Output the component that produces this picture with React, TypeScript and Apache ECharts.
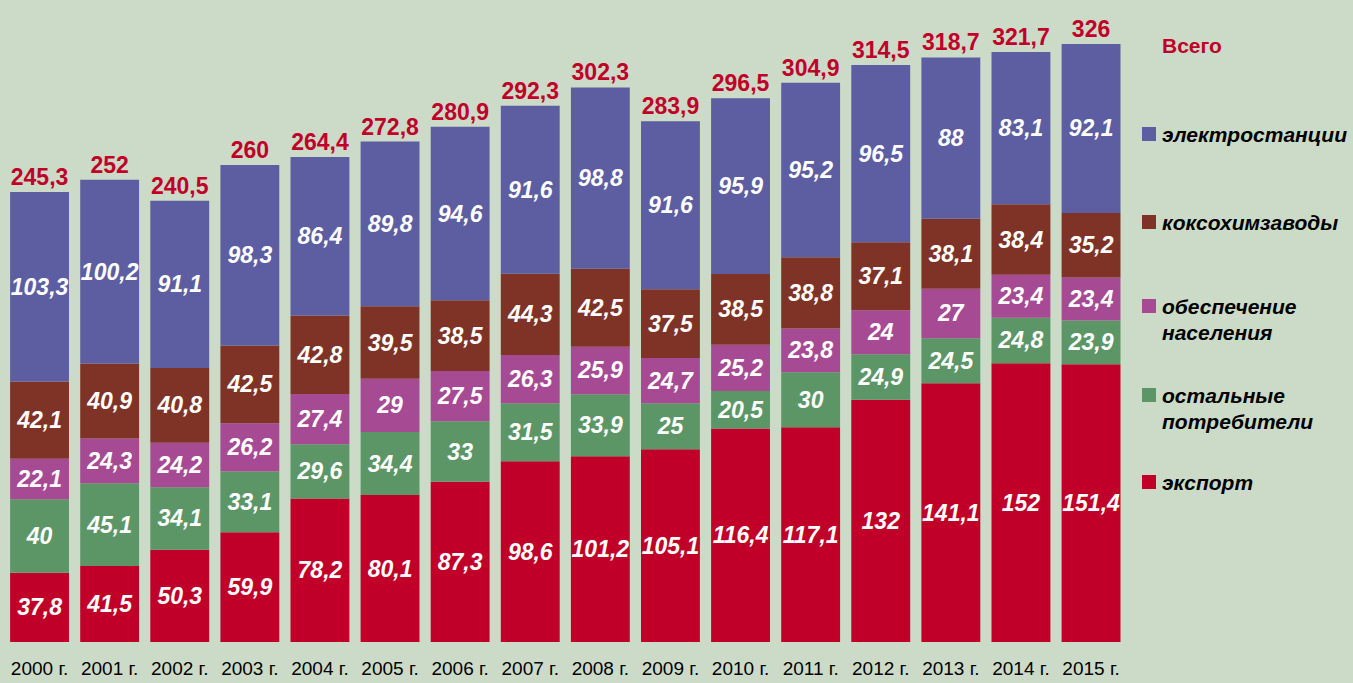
import React, { useEffect, useRef } from "react";
import * as echarts from "echarts";

const years = ["2000 г.", "2001 г.", "2002 г.", "2003 г.", "2004 г.", "2005 г.", "2006 г.", "2007 г.", "2008 г.", "2009 г.", "2010 г.", "2011 г.", "2012 г.", "2013 г.", "2014 г.", "2015 г."];
const exportVals = [37.8, 41.5, 50.3, 59.9, 78.2, 80.1, 87.3, 98.6, 101.2, 105.1, 116.4, 117.1, 132, 141.1, 152, 151.4];
const otherVals = [40, 45.1, 34.1, 33.1, 29.6, 34.4, 33, 31.5, 33.9, 25, 20.5, 30, 24.9, 24.5, 24.8, 23.9];
const populationVals = [22.1, 24.3, 24.2, 26.2, 27.4, 29, 27.5, 26.3, 25.9, 24.7, 25.2, 23.8, 24, 27, 23.4, 23.4];
const cokeVals = [42.1, 40.9, 40.8, 42.5, 42.8, 39.5, 38.5, 44.3, 42.5, 37.5, 38.5, 38.8, 37.1, 38.1, 38.4, 35.2];
const powerVals = [103.3, 100.2, 91.1, 98.3, 86.4, 89.8, 94.6, 91.6, 98.8, 91.6, 95.9, 95.2, 96.5, 88, 83.1, 92.1];
const totals = [245.3, 252, 240.5, 260, 264.4, 272.8, 280.9, 292.3, 302.3, 283.9, 296.5, 304.9, 314.5, 318.7, 321.7, 326];

const seriesNames = ["экспорт", "остальные потребители", "обеспечение населения", "коксохимзаводы", "электростанции"];
const colors = ["#C00028", "#5C9667", "#A64A94", "#7F3326", "#5D5DA1"];

const fmt = (v: number) => String(v).replace(".", ",");
const FONT = "Liberation Sans, Arial, sans-serif";

export default function App() {
  const ref = useRef<HTMLDivElement>(null);
  useEffect(() => {
    if (!ref.current) return;
    const chart = echarts.init(ref.current, null, { renderer: "svg" });
    const dataSets = [exportVals, otherVals, populationVals, cokeVals, powerVals];
    const barSeries = dataSets.map((d, i) => ({
      type: "bar",
      name: seriesNames[i],
      stack: "total",
      data: d,
      barCategoryGap: "16%",
      itemStyle: { color: colors[i] },
      label: {
        show: true,
        position: "inside",
        color: "#ffffff",
        fontFamily: FONT,
        fontWeight: "bold",
        fontStyle: "italic",
        fontSize: 23,
        formatter: (p: any) => fmt(p.value),
      },
    }));
    const legendItems = [
      { lines: ["электростанции"], y: 134, color: colors[4] },
      { lines: ["коксохимзаводы"], y: 222, color: colors[3] },
      { lines: ["обеспечение", "населения"], y: 306, color: colors[2] },
      { lines: ["остальные", "потребители"], y: 395, color: colors[1] },
      { lines: ["экспорт"], y: 482, color: colors[0] },
    ];
    const graphics: any[] = [
      {
        type: "text",
        x: 1162,
        y: 45,
        style: { text: "Всего", fill: "#C00028", font: "bold 21px 'Liberation Sans', Arial, sans-serif", verticalAlign: "middle" },
      },
    ];
    legendItems.forEach((it) => {
      graphics.push({ type: "rect", shape: { x: 1142, y: it.y - 7, width: 14, height: 14 }, style: { fill: it.color } });
      it.lines.forEach((ln, j) => {
        graphics.push({
          type: "text",
          x: 1162,
          y: it.y + j * 26,
          style: {
            text: ln,
            fill: "#000000",
            font: "italic bold 21px 'Liberation Sans', Arial, sans-serif",
            verticalAlign: "middle",
          },
        });
      });
    });
    chart.setOption({
      animation: false,
      backgroundColor: "#CCDBC8",
      grid: { left: 4.5, top: 0, width: 1121.6, height: 642 },
      xAxis: {
        type: "category",
        data: years,
        axisLine: { show: false },
        axisTick: { show: false },
        axisLabel: { color: "#000", fontSize: 19, fontFamily: FONT, margin: 17, interval: 0 },
      },
      yAxis: { type: "value", min: 0, max: 350, show: false, splitLine: { show: false } },
      series: [
        ...barSeries,
        {
          type: "scatter",
          name: "Всего",
          data: totals,
          symbolSize: 1,
          itemStyle: { color: "rgba(0,0,0,0)", opacity: 1 },
          z: 5,
          label: {
            show: true,
            position: "top",
            distance: 3,
            color: "#C00028",
            opacity: 1,
            fontFamily: FONT,
            fontWeight: "bold",
            fontSize: 23,
            formatter: (p: any) => fmt(p.value),
          },
        },
      ],
      graphic: graphics,
    });
    return () => chart.dispose();
  }, []);
  return <div ref={ref} style={{ position: "fixed", left: 0, top: 0, width: 1353, height: 683 }} />;
}
